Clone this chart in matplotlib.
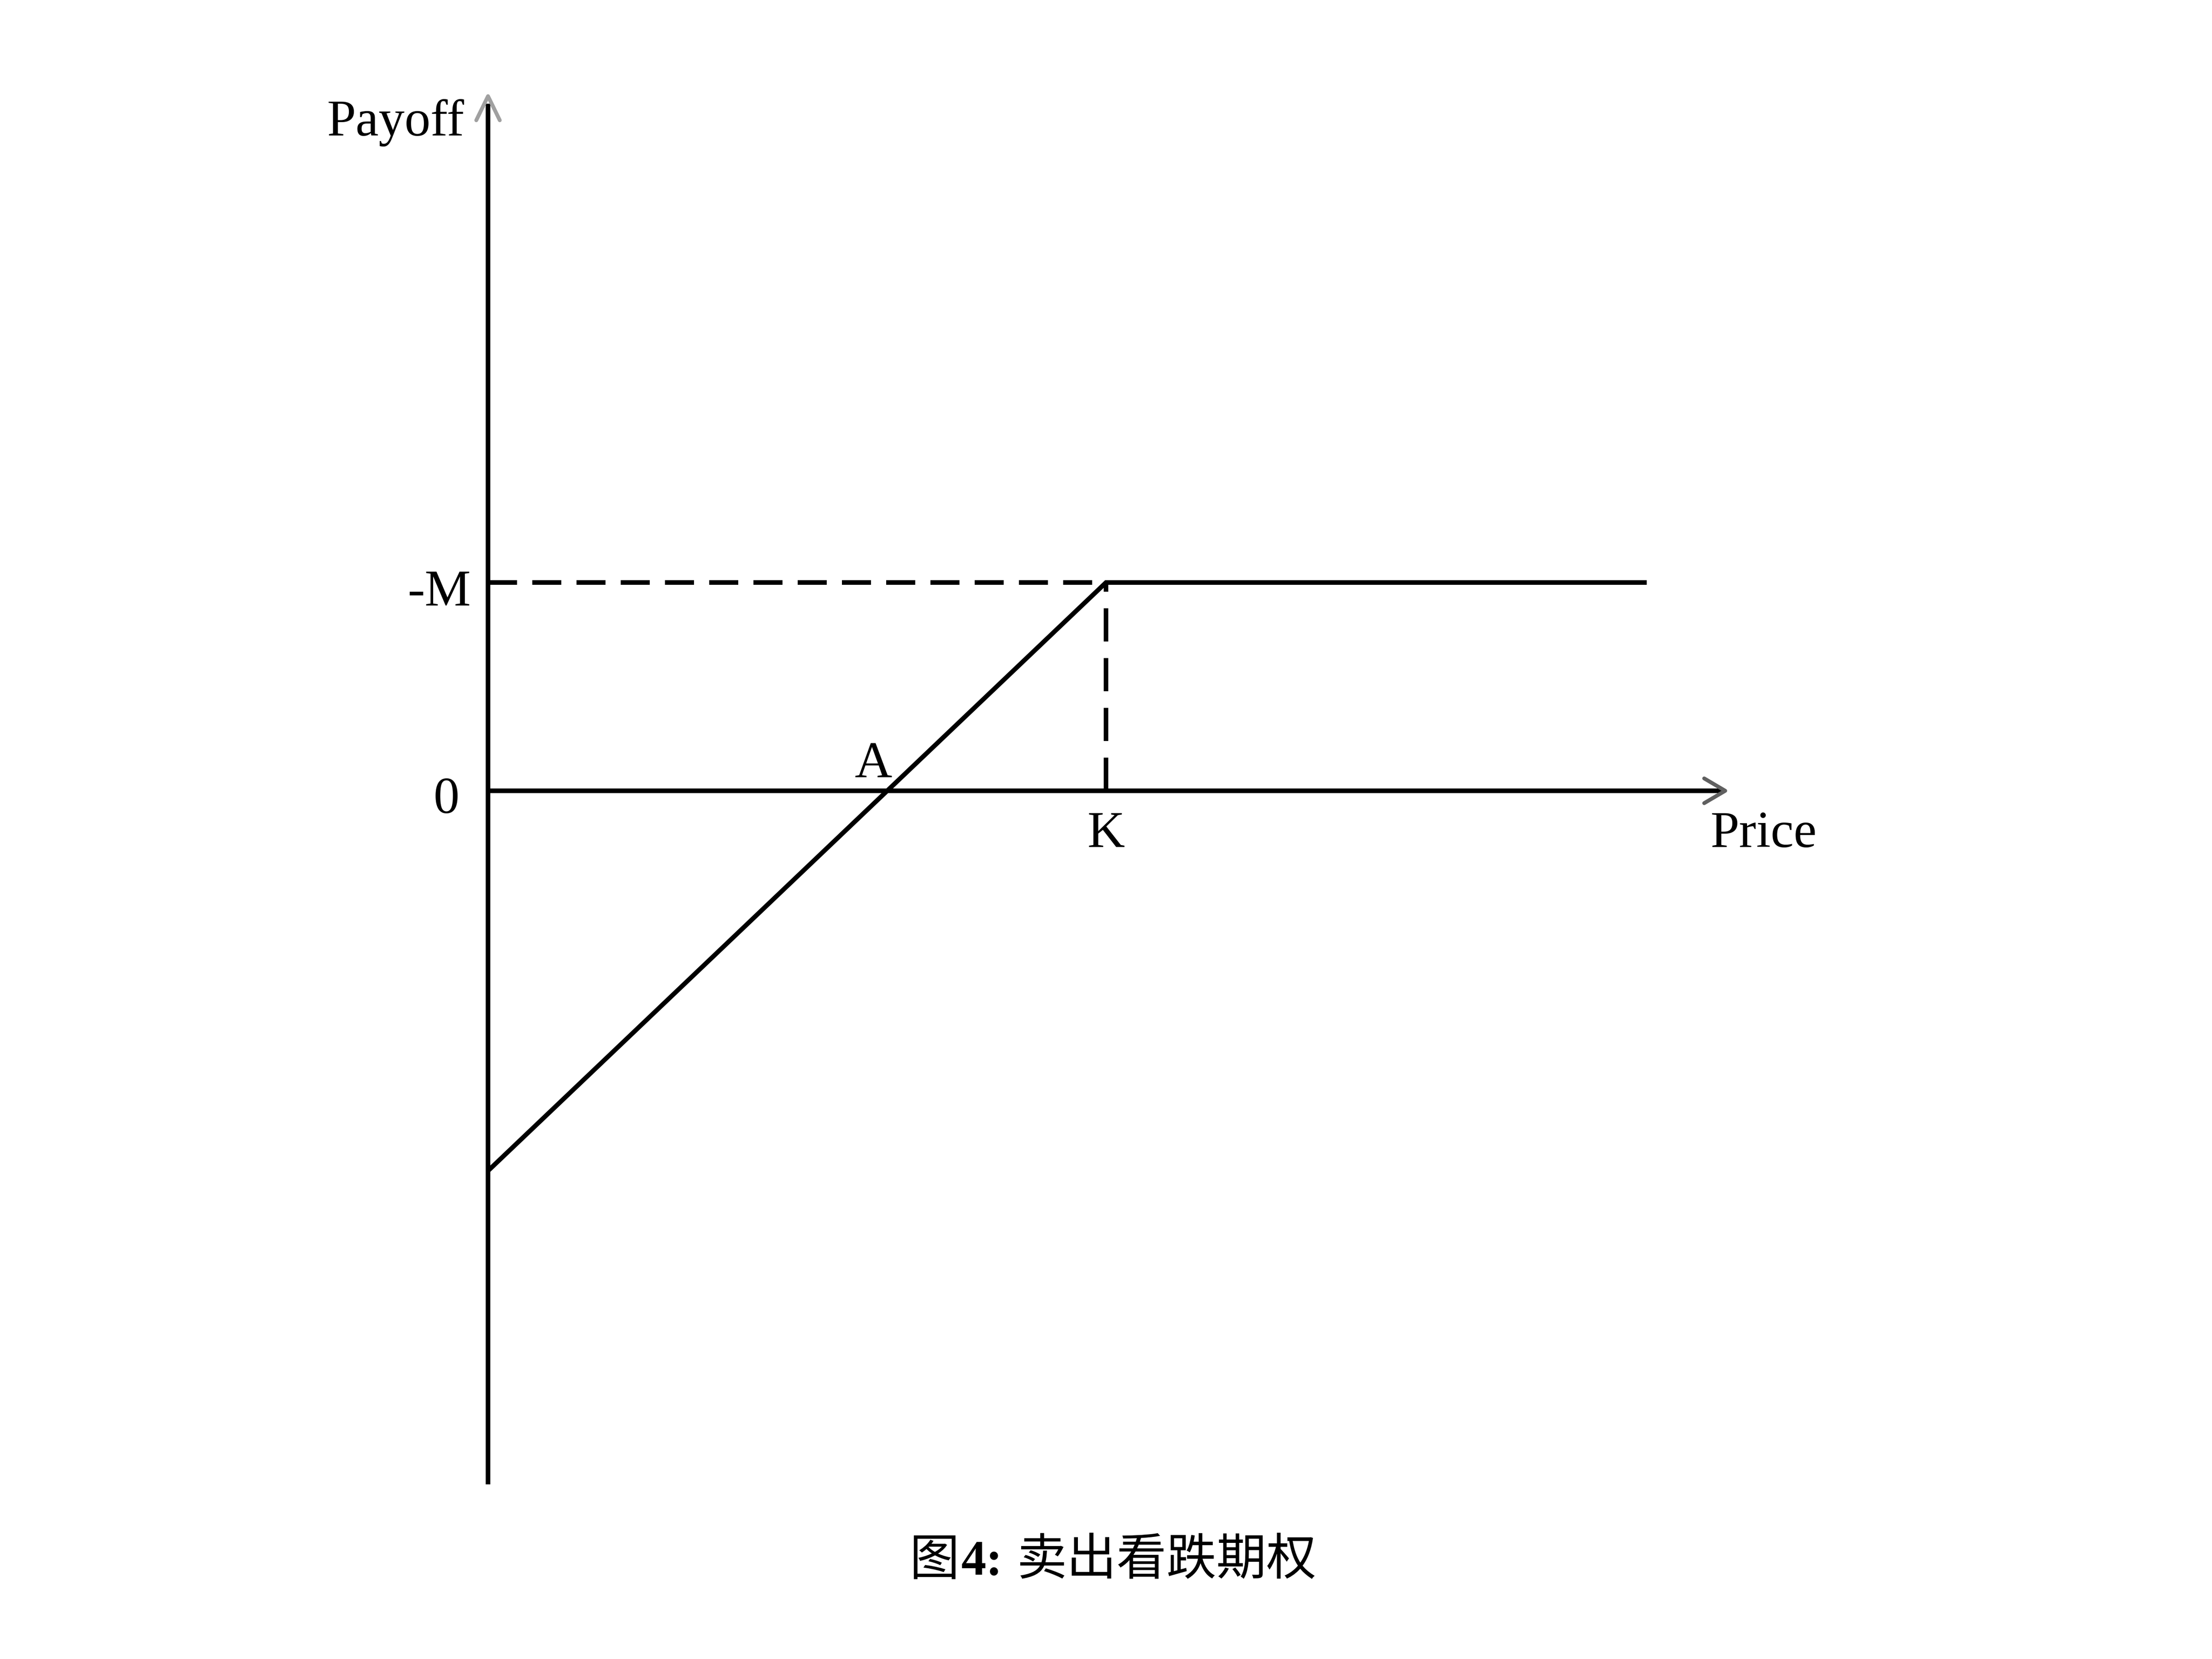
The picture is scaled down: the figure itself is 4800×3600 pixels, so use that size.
import matplotlib
matplotlib.use("Agg")
import matplotlib.pyplot as plt

# payoff of a short put: strike K, flat at the premium level ("-M") above K
strike = 10.0
premium_level = 3.37
price_pts = [0.0, strike, 18.75]
payoff_pts = [-6.15, premium_level, premium_level]
x_axis_end = 20.02
y_axis_range = [-11.22, 11.24]

label_text = ["Payoff", "Price", "-M", "0", "A", "K"]
caption_parts = ["图", "4:", "卖出看跌期权"]

_INK = "#000000"
_LW = 2.4

fig = plt.figure(figsize=(16, 12), dpi=300, facecolor="white")
ax = fig.add_axes([0, 0, 1, 1])
ax.set_xlim(-7.897, 27.897)
ax.set_ylim(-14.049, 12.796)
ax.axis("off")

# axes
ax.plot([0, 0], [y_axis_range[0], y_axis_range[1] - 0.12], color=_INK, lw=_LW,
        solid_capstyle="butt")
ax.plot([0, x_axis_end - 0.06], [0, 0], color=_INK, lw=_LW, solid_capstyle="butt")

# open chevron heads
ytip = y_axis_range[1]
ax.plot([-0.19, 0, 0.19], [ytip - 0.39, ytip, ytip - 0.39], color="#a0a0a0", lw=2.0,
        solid_capstyle="round", solid_joinstyle="round", zorder=4)
ax.plot([x_axis_end - 0.34, x_axis_end, x_axis_end - 0.34], [0.2, 0, -0.2],
        color="#606060", lw=2.0, solid_capstyle="round", solid_joinstyle="round", zorder=4)

# guides
ax.plot([0, strike], [premium_level, premium_level], color=_INK, lw=_LW,
        linestyle=(0, (6.3, 3.3)))
ax.plot([strike, strike], [0, premium_level], color=_INK, lw=_LW,
        linestyle=(0, (7.2, 3.6)))

# payoff
ax.plot(price_pts, payoff_pts, color=_INK, lw=_LW, solid_joinstyle="miter",
        solid_capstyle="butt", zorder=3)

serif = dict(family="Liberation Serif", fontsize=27, color=_INK, va="baseline")
ax.text(-0.38, 10.60, label_text[0], ha="right", **serif)
ax.text(19.78, -0.91, label_text[1], ha="left", **serif)
ax.text(-0.27, 3.00, label_text[2], ha="right", **serif)
ax.text(-0.46, -0.36, label_text[3], ha="right", **serif)
ax.text(6.24, 0.21, label_text[4], ha="center", **serif)
ax.text(strike, -0.91, label_text[5], ha="center", **serif)

# caption: lay the three runs out side by side, then centre the group
cap_y = 0.0508
styles = [
    dict(family="Noto Sans CJK SC", fontsize=26),
    dict(family="Liberation Serif", weight="bold", fontsize=26),
    dict(family="Noto Sans CJK SC", fontsize=26),
]
gaps = [4, 30]  # pixels between runs
renderer = fig.canvas.get_renderer()
texts = [fig.text(0, cap_y, s, va="baseline", ha="left", **st)
         for s, st in zip(caption_parts, styles)]
widths = [t.get_window_extent(renderer).width for t in texts]
total = sum(widths) + sum(gaps)
W = fig.bbox.width
x = 2415 - total / 2
for i, t in enumerate(texts):
    t.set_x(x / W)
    x += widths[i] + (gaps[i] if i < len(gaps) else 0)

fig.savefig("out.png", dpi=300, facecolor="white")
plt.close(fig)
